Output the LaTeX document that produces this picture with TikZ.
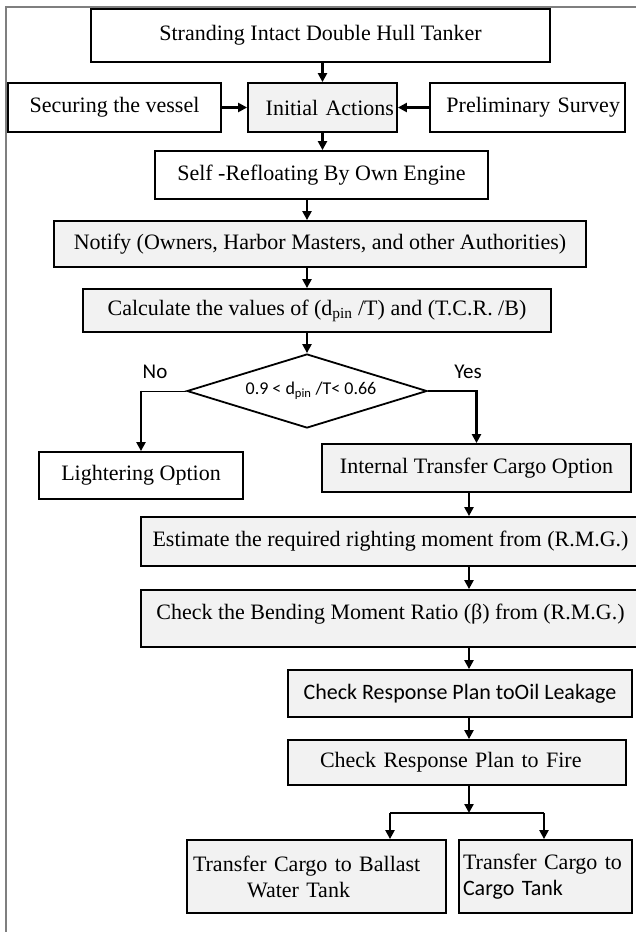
\documentclass[tikz,border=0pt]{standalone}
\usepackage{fontspec}
\setmainfont{Liberation Serif}
\newfontfamily\sansf{Carlito}
\usetikzlibrary{arrows.meta,shapes.geometric,calc}
\definecolor{boxgrey}{HTML}{F2F2F2}
\definecolor{framegrey}{HTML}{7F7F7F}
\begin{document}
\begin{tikzpicture}[x=1pt,y=-1pt,
  box/.style={draw, line width=1.8pt, inner sep=0pt, align=center,
    font=\fontsize{22}{26}\selectfont},
  gbox/.style={box, fill=boxgrey},
  arr/.style={line width=2.2pt, -{Triangle[length=9pt,width=9pt]}},
  conn/.style={line width=2.2pt},
  lbl/.style={font=\sansf\fontsize{21}{25}\selectfont, inner sep=0pt}]
\useasboundingbox (0,0) rectangle (636,932);
% outer frame
\draw[framegrey, line width=2pt] (636,7) -- (6,7) -- (6,932);

% nodes
\node[box, minimum width=459pt, minimum height=53pt] (top) at (320.5,35.5) {Stranding Intact Double Hull Tanker};
\node[box, minimum width=213pt, minimum height=49pt] (sec) at (114.5,107.5) {Securing the vessel};
\node[gbox, minimum width=149pt, minimum height=49pt, text width=143pt, align=right] (init) at (322.5,107.5) {Initial Actions};
\node[box, minimum width=195pt, minimum height=49pt, text width=185pt, align=right] (pre) at (527.5,107.5) {Preliminary Survey};
\node[box, minimum width=333pt, minimum height=48pt] (self) at (321.5,175) {Self -Refloating By Own Engine};
\node[gbox, minimum width=532pt, minimum height=46pt] (notify) at (320,244) {Notify (Owners, Harbor Masters, and other Authorities)};
\node[gbox, minimum width=468pt, minimum height=43pt] (calc) at (317,310.5) {Calculate the values of (d\textsubscript{pin} /T) and (T.C.R. /B)};
\node[draw, diamond, shape aspect=3.24, minimum width=240pt, minimum height=74pt, inner sep=0pt, line width=1.8pt,
  font=\sansf\fontsize{18}{21}\selectfont] (dia) at (307,391) {\hspace*{8pt}0.9 < d\textsubscript{pin} /T< 0.66};
\node[lbl] (no) at (155,372) {No};
\node[lbl] (yes) at (468,372) {Yes};
\node[box, minimum width=204pt, minimum height=47pt] (light) at (141,475.5) {Lightering Option};
\node[gbox, minimum width=309pt, minimum height=48pt] (internal) at (476.5,468) {Internal Transfer Cargo Option};
\node[gbox, minimum width=499pt, minimum height=49pt] (est) at (390.5,541.5) {Estimate the required righting moment from (R.M.G.)};
\node[gbox, minimum width=499pt, minimum height=57pt, text height=15pt, text depth=13pt] (bend) at (390.5,618.5) {Check the Bending Moment Ratio (β) from (R.M.G.)};
\node[gbox, minimum width=344pt, minimum height=47pt, font=\sansf\fontsize{22}{26}\selectfont] (oil) at (460,693.5) {Check Response Plan toOil Leakage};
\node[gbox, minimum width=338pt, minimum height=45pt, text width=274pt, align=left] (fire) at (457,762.5) {Check Response Plan to Fire};
\node[gbox, minimum width=259pt, minimum height=73pt, text width=247pt, align=left] (ball) at (316.5,876.5) {Transfer Cargo to Ballast\\\hspace*{54pt}Water Tank};
\node[gbox, minimum width=173pt, minimum height=73pt, text width=165pt, align=left] (cargo) at (545.5,876.5) {Transfer Cargo to\\{\sansf Cargo Tank}};

% helper coordinates
\coordinate (c2) at (469,0);
\coordinate (j) at (469,813);
\coordinate (jl) at (390,813);
\coordinate (jr) at (544,813);

% connectors
\draw[arr] (top.south -| init.north) -- (init.north);
\draw[arr] (sec.east) -- (init.west);
\draw[arr] (pre.west) -- (init.east);
\draw[arr] (init.south) -- (init.south |- self.north);
\draw[arr] (self.south -| dia.north) -- (notify.north -| dia.north);
\draw[arr] (notify.south -| dia.north) -- (calc.north -| dia.north);
\draw[arr] (calc.south -| dia.north) -- (dia.north);
\draw[line width=1pt] (dia.west) -- (dia.west -| light.north);
\draw[arr] ([yshift=0.5pt]dia.west -| light.north) -- (light.north);
\draw[arr] (dia.east) -| (internal.north);
\draw[arr] (internal.south -| c2) -- (est.north -| c2);
\draw[arr] (est.south -| c2) -- (bend.north -| c2);
\draw[arr] (bend.south -| c2) -- (oil.north -| c2);
\draw[arr] (oil.south -| c2) -- (fire.north -| c2);
\draw[arr] (fire.south -| c2) -- (j);
\draw[conn] (jl) -- (jr);
\draw[arr] (jl) -- (jl |- ball.north);
\draw[arr] (jr) -- (jr |- cargo.north);
\end{tikzpicture}
\end{document}
